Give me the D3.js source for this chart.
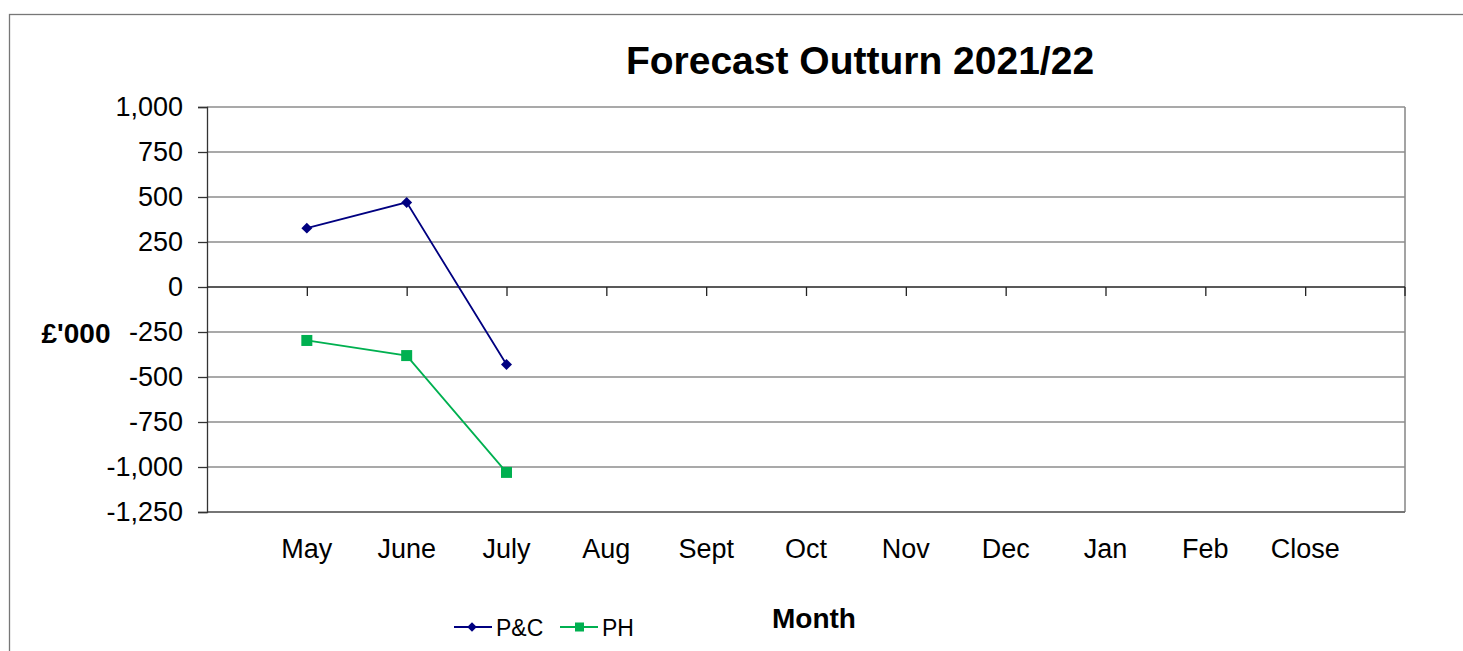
<!DOCTYPE html>
<html>
<head>
<meta charset="utf-8">
<script src="https://cdn.jsdelivr.net/npm/d3@7"></script>
<style>
  html, body { margin: 0; padding: 0; background: #fff; }
  svg { display: block; font-family: "Liberation Sans", Arial, sans-serif; }
</style>
</head>
<body>
<svg id="chart" width="1463" height="651"></svg>
<script>
// ---- Data ----
const months = ["May", "June", "July", "Aug", "Sept", "Oct", "Nov", "Dec", "Jan", "Feb", "Close"];
const pcValues = [327, 470, -431];      // P&C
const phValues = [-297, -381, -1030];   // PH
const yTicks = [1000, 750, 500, 250, 0, -250, -500, -750, -1000, -1250];
const seriesNames = ["P&C", "PH"];
const titleText = "Forecast Outturn 2021/22";
const yAxisLabel = "£'000";
const xAxisLabel = "Month";

// ---- Layout ----
const svg = d3.select("#chart");
const plot = { left: 207, right: 1405, top: 107, bottom: 512 };
const step = (plot.right - plot.left) / (months.length + 1);

const x = d3.scalePoint().domain(months).range([plot.left + step, plot.right - step]);
const y = d3.scaleLinear().domain([-1250, 1000]).range([plot.bottom, plot.top]);

// outer chart border
svg.append("rect")
  .attr("x", 9.5).attr("y", 14.5)
  .attr("width", 1500).attr("height", 700)
  .attr("fill", "#fff").attr("stroke", "#777").attr("stroke-width", 1.3);

// gridlines
svg.append("g").selectAll("line").data(yTicks.filter(d => d !== 0)).join("line")
  .attr("x1", plot.left).attr("x2", plot.right)
  .attr("y1", d => y(d)).attr("y2", d => y(d))
  .attr("stroke", "#8c8c8c").attr("stroke-width", 1.3);

// right border of plot
svg.append("line")
  .attr("x1", plot.right).attr("x2", plot.right)
  .attr("y1", plot.top).attr("y2", plot.bottom)
  .attr("stroke", "#8c8c8c").attr("stroke-width", 1.6);

// bottom border
svg.append("line")
  .attr("x1", plot.left).attr("x2", plot.right)
  .attr("y1", plot.bottom).attr("y2", plot.bottom)
  .attr("stroke", "#666").attr("stroke-width", 1.3);

// y axis
const fmt = d3.format(",");
const yAxis = d3.axisLeft(y).tickValues(yTicks).tickSize(9).tickPadding(15)
  .tickFormat(d => fmt(d).replace("\u2212", "-"));
const gy = svg.append("g").attr("transform", `translate(${plot.left},0)`).call(yAxis);
gy.select(".domain").attr("stroke", "#333").attr("stroke-width", 1.3);
gy.selectAll(".tick line").attr("stroke", "#333").attr("stroke-width", 1.3);
gy.selectAll(".tick text")
  .attr("font-size", 27).attr("fill", "#000")
  .attr("font-family", "'Liberation Sans', Arial, sans-serif");

// x axis at zero
const xAxis = d3.axisBottom(x).tickSize(9).tickFormat("");
const gx = svg.append("g").attr("transform", `translate(0,${y(0)})`).call(xAxis);
gx.select(".domain").attr("d", `M${plot.left},0H${plot.right}`).attr("stroke", "#222").attr("stroke-width", 1.3);
gx.selectAll(".tick line").attr("stroke", "#222").attr("stroke-width", 1.3);
// final tick at right end
gx.append("line").attr("x1", plot.right).attr("x2", plot.right).attr("y1", 0).attr("y2", 9)
  .attr("stroke", "#222").attr("stroke-width", 1.3);

// category labels below plot
svg.append("g").selectAll("text").data(months).join("text")
  .attr("x", d => x(d)).attr("y", 558)
  .attr("text-anchor", "middle").attr("font-size", 27).attr("fill", "#000")
  .text(d => d);

// series lines
const line = d3.line().x((d, i) => x(months[i])).y(d => y(d));
const navy = "#000080", green = "#00b050";

svg.append("path").datum(pcValues).attr("d", line)
  .attr("fill", "none").attr("stroke", navy).attr("stroke-width", 1.8);
svg.append("path").datum(phValues).attr("d", line)
  .attr("fill", "none").attr("stroke", green).attr("stroke-width", 1.8);

svg.append("g").selectAll("path").data(pcValues).join("path")
  .attr("transform", (d, i) => `translate(${x(months[i])},${y(d)}) rotate(45)`)
  .attr("d", d3.symbol().type(d3.symbolSquare).size(60))
  .attr("fill", navy);
svg.append("g").selectAll("rect").data(phValues).join("rect")
  .attr("x", (d, i) => x(months[i]) - 5.5).attr("y", d => y(d) - 5.5)
  .attr("width", 11).attr("height", 11).attr("fill", green);

// title
svg.append("text").attr("x", 860).attr("y", 74).attr("text-anchor", "middle")
  .attr("font-size", 39).attr("font-weight", "bold").attr("fill", "#000")
  .text(titleText);

// axis titles
svg.append("text").attr("x", 76).attr("y", 343).attr("text-anchor", "middle")
  .attr("font-size", 28).attr("font-weight", "bold").attr("fill", "#000")
  .text(yAxisLabel);
svg.append("text").attr("x", 814).attr("y", 628).attr("text-anchor", "middle")
  .attr("font-size", 28).attr("font-weight", "bold").attr("fill", "#000")
  .text(xAxisLabel);

// legend
const legend = [
  { name: seriesNames[0], color: navy, x: 454, shape: "diamond" },
  { name: seriesNames[1], color: green, x: 560, shape: "square" }
];
const lg = svg.append("g").selectAll("g").data(legend).join("g")
  .attr("transform", d => `translate(${d.x},627)`);
lg.append("line").attr("x1", 0).attr("x2", 38).attr("y1", 0).attr("y2", 0)
  .attr("stroke", d => d.color).attr("stroke-width", 1.8);
lg.filter(d => d.shape === "diamond").append("path")
  .attr("transform", "translate(18,0) rotate(45)")
  .attr("d", d3.symbol().type(d3.symbolSquare).size(45))
  .attr("fill", d => d.color);
lg.filter(d => d.shape === "square").append("rect")
  .attr("x", 15).attr("y", -4.5).attr("width", 9).attr("height", 9)
  .attr("fill", d => d.color);
lg.append("text").attr("x", 42).attr("y", 8.5)
  .attr("font-size", 23).attr("fill", "#000")
  .text(d => d.name);
</script>
</body>
</html>
